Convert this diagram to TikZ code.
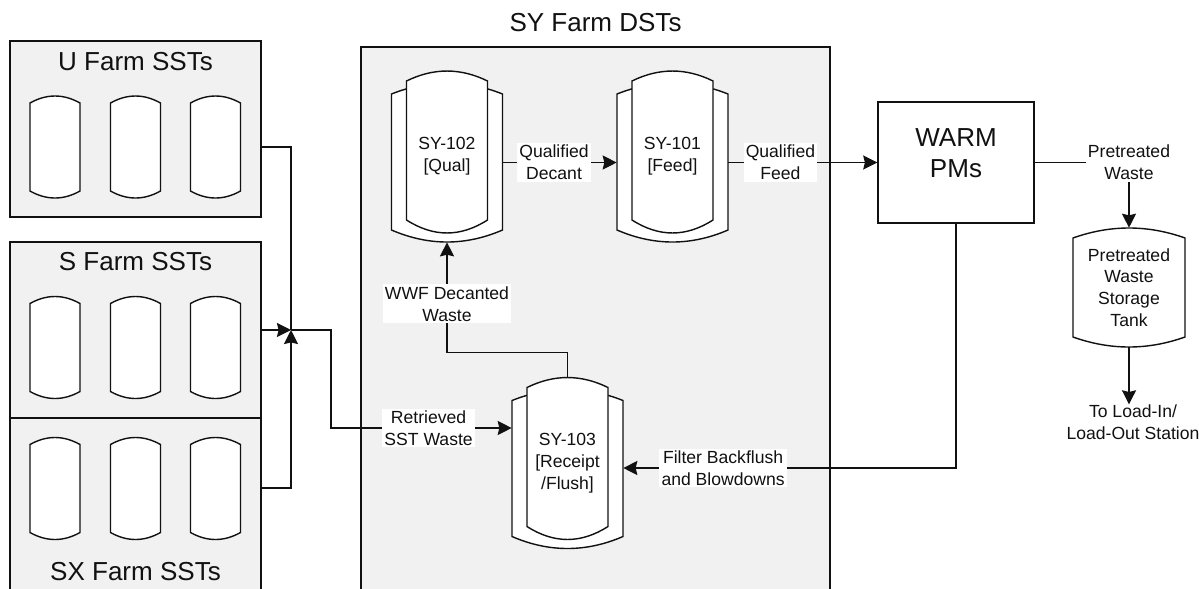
\documentclass[tikz,border=0pt]{standalone}
\usepackage{fontspec}
\setmainfont{Liberation Sans}
\usetikzlibrary{arrows.meta,positioning,fit,calc}
\definecolor{tkInk}{HTML}{111111}
\definecolor{tkGrey}{HTML}{F1F1F1}
\tikzset{
  farm/.style       ={draw=tkInk,line width=1pt,fill=tkGrey,inner sep=0pt},
  ttl/.style        ={font=\fontsize{18.5}{22}\selectfont,text=tkInk,align=center,inner sep=1pt},
  lbl/.style        ={font=\fontsize{12.5}{15.5}\selectfont,text=tkInk,align=center,
                      fill=white,inner sep=1.5pt},
  tanktxt/.style    ={font=\fontsize{12.5}{15.5}\selectfont,text=tkInk,align=center,inner sep=0pt},
  dstnode/.style    ={tanktxt,minimum width=2.775cm,minimum height=4.275cm},
  pmbox/.style      ={ttl,draw=tkInk,line width=1pt,fill=white,inner sep=0pt},
  vesselline/.style ={draw=tkInk,line width=1pt,fill=white},
  flow/.style       ={-{Stealth[length=10pt,width=10pt,inset=1.2pt]},tkInk,line width=1pt},
  pipe/.style       ={tkInk,line width=1pt},
  %% tank outlines (picture units are pixels, y downwards)
  %% drum = half width, half height of the side wall, bulge of the heads
  pics/drum/.style n args={3}{code={
    \draw[vesselline] (-#1,-#2) -- (-#1,#2)
      .. controls ({-#1/3},{#2+4*#3/3}) and ({#1/3},{#2+4*#3/3}) .. (#1,#2)
      -- (#1,-#2)
      .. controls ({#1/3},{-#2-4*#3/3}) and ({-#1/3},{-#2-4*#3/3}) .. (-#1,-#2) -- cycle;}},
  pics/dst/.style={code={
    \draw[vesselline] (-55.5,-62.5) -- (-55.5,73.5)
      .. controls (-18.5,89.5) and (18.5,89.5) .. (55.5,73.5) -- (55.5,-62.5)
      .. controls (18.5,-77.2) and (-18.5,-77.2) .. (-55.5,-62.5) -- cycle;
    \draw[vesselline] (-40.5,-75.5) -- (-40.5,63.5)
      .. controls (-13.5,80.8) and (13.5,80.8) .. (40.5,63.5) -- (40.5,-75.5)
      .. controls (13.5,-88.8) and (-13.5,-88.8) .. (-40.5,-75.5) -- cycle;}},
}

\begin{document}
\begin{tikzpicture}[x=0.025cm,y=-0.025cm]
\useasboundingbox (0,0) rectangle (1199,588);
\clip (0,0) rectangle (1199,588);

%% single-shell tank farms
\node[farm,fit={(10,41) (261,217)}] (ubox) {};
\node[farm,fit={(10,242) (261,418)}] (sbox) {};
\node[farm,fit={(10,418) (261,610)}] (sxbox) {};
\node[ttl] (utitle) at (135.5,62) {U Farm SSTs};
\node[ttl] (stitle) at (135.5,262) {S Farm SSTs};
\node[ttl] (sxtitle) at (135.5,572) {SX Farm SSTs};
\foreach \y in {147,347.5,488.5}
  \foreach \x in {55,135.5,215.5}
    \pic at (\x,\y) {drum={25}{44}{7}};

%% double-shell tank farm
\node[farm,fit={(361,47) (830,610)}] (sybox) {};
\node[ttl] (sytitle) at (595.5,23) {SY Farm DSTs};
\path (447,156.5) pic {dst} node[dstnode] (sy102) {SY-102\\{[Qual]}};
\path (672.5,156.5) pic {dst} node[dstnode] (sy101) {SY-101\\{[Feed]}};
\path (567.5,463) pic {dst} node[dstnode] (sy103) {SY-103\\{[Receipt}\\/Flush]};

\node[pmbox,fit={(878,102) (1034,223)}] (warm) {WARM\\PMs};
\path (1129,287.5) pic {drum={56}{49.5}{10}}
  node[tanktxt,minimum width=2.8cm,minimum height=2.975cm] (ptank)
  {Pretreated\\Waste\\Storage\\Tank};
\node[lbl,inner sep=0pt] (load) at (1133,422) {To Load-In/\\Load-Out Station};

%% transfers
\coordinate (junc) at (291,330);
\draw[pipe] ([yshift=-0.45cm]ubox.east) -| (junc);
\draw[flow] (sbox.east) -- (junc);
\draw[flow] ([yshift=0.65cm]sxbox.east) -| (junc);
\draw[flow] (junc) -- ++(40,0) |- node[lbl,pos=0.77] {Retrieved\\SST Waste}
  ([yshift=0.875cm]sy103.west);
\draw[flow] (sy103.north) -- ++(0,-25) -| node[lbl,pos=0.72] {WWF Decanted\\Waste} (sy102.south);
\draw[flow] (sy102.east |- warm.west) -- node[lbl,pos=0.45] {Qualified\\Decant} (sy101.west |- warm.west);
\draw[flow] (sy101.east |- warm.west) -- node[lbl,pos=0.35] {Qualified\\Feed} (warm.west);
\draw[flow] (warm.east) -| node[lbl,pos=0.5] {Pretreated\\Waste} (ptank.north);
\draw[flow] (ptank.south) -- (ptank.south |- load.north);
\draw[flow] (warm.south) |- node[lbl,pos=0.85] {Filter Backflush\\and Blowdowns}
  ([yshift=-0.125cm]sy103.east);
\end{tikzpicture}
\end{document}
